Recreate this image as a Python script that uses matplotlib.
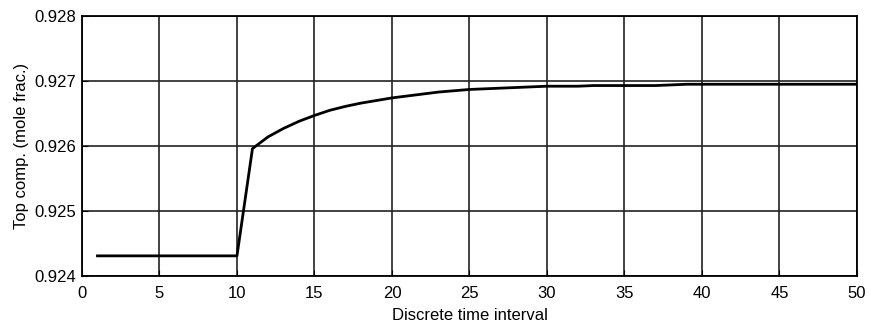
import matplotlib
matplotlib.use("Agg")
import matplotlib.pyplot as plt

time_steps = list(range(1, 51))
top_comp = ([0.92431] * 10 +
            [0.92596, 0.92614, 0.92627, 0.92638, 0.92647, 0.92655, 0.92661, 0.92666,
             0.92670, 0.92674, 0.92677, 0.92680, 0.92683, 0.92685, 0.92687, 0.92688,
             0.92689, 0.92690, 0.92691, 0.92692, 0.92692, 0.92692, 0.92693, 0.92693,
             0.92693, 0.92693, 0.92693, 0.92694, 0.92695, 0.92695, 0.92695, 0.92695,
             0.92695, 0.92695, 0.92695, 0.92695, 0.92695, 0.92695, 0.92695, 0.92695])
x_ticks = [0, 5, 10, 15, 20, 25, 30, 35, 40, 45, 50]
y_ticks = [0.924, 0.925, 0.926, 0.927, 0.928]
y_tick_labels = ["0.924", "0.925", "0.926", "0.927", "0.928"]

plt.rcParams['font.family'] = ['Liberation Sans', 'DejaVu Sans']

fig = plt.figure(figsize=(8.71, 3.28), dpi=100)
ax = fig.add_axes([0.0941, 0.1585, 0.8898, 0.7927])
ax.plot(time_steps, top_comp, color='black', linewidth=2.0)
ax.set_xlim(0, 50)
ax.set_ylim(0.924, 0.928)
ax.set_xticks(x_ticks)
ax.set_yticks(y_ticks)
ax.set_yticklabels(y_tick_labels)
ax.grid(True, color='#222222', linewidth=1.2, linestyle='-')
ax.tick_params(direction='in', labelsize=12, length=4, colors='black')
ax.tick_params(axis='x', pad=7)
ax.tick_params(axis='y', pad=4)
for s in ax.spines.values():
    s.set_linewidth(1.3)
ax.set_xlabel("Discrete time interval", fontsize=12, labelpad=5)
ax.set_ylabel("Top comp. (mole frac.)", fontsize=12, labelpad=4)
fig.savefig("out.png", dpi=100)
